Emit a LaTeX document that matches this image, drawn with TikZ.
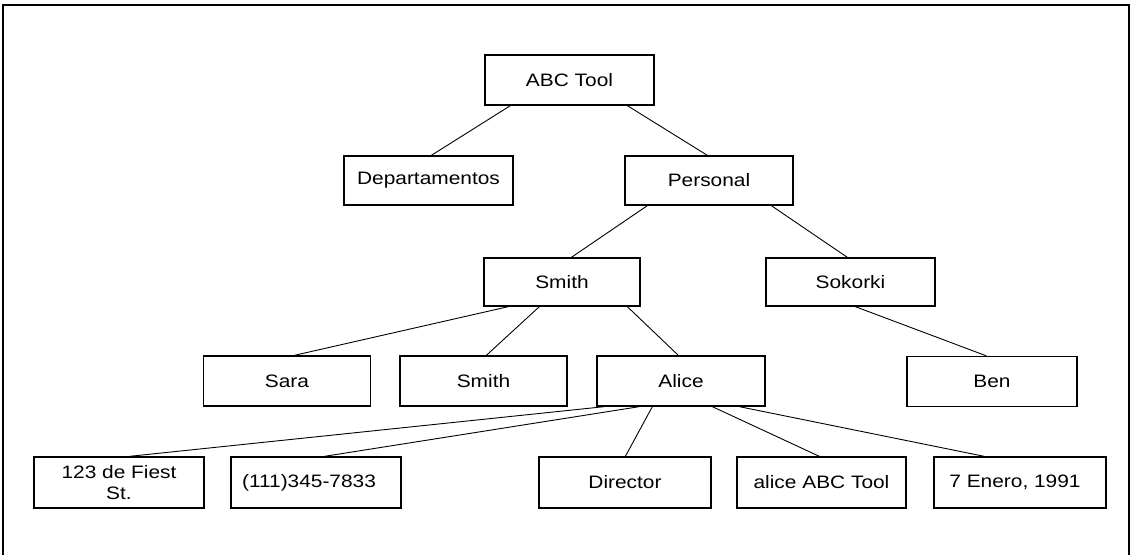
\documentclass[tikz,border=0pt]{standalone}
\usepackage{fontspec}
\setmainfont[FakeStretch=1.16]{Liberation Sans}
\begin{document}
\begin{tikzpicture}[x=1pt,y=-1pt,
  box/.style={draw=black,line width=1.3pt,inner sep=0pt,minimum height=49pt,font=\fontsize{18}{20}\selectfont,align=center},
  link/.style={draw=black,line width=0.9pt}]
\useasboundingbox (0,0) rectangle (1135,555);
\draw[line width=1.2pt] (3,555) -- (3,5) -- (1129,5) -- (1129,555);
% level 1
\node[box,minimum width=169pt,minimum height=50pt] (abc) at (569.5,80) {ABC Tool};
% level 2
\node[box,minimum width=169pt] (dep) at (428.5,180.5) {Departamentos};
\node[box,minimum width=168pt] (per) at (709,180.5) {Personal};
% level 3
\node[box,minimum width=156pt,minimum height=48pt] (smA) at (562,282) {Smith};
\node[box,minimum width=169pt,minimum height=48pt] (sok) at (850.5,282) {Sokorki};
% level 4
\node[box,minimum width=167pt,minimum height=50pt] (sara) at (287,381) {Sara};
\node[box,minimum width=167pt,minimum height=50pt] (smB) at (483.5,381) {Smith};
\node[box,minimum width=168pt,minimum height=50pt] (ali) at (681,381) {Alice};
\node[box,minimum width=170pt,minimum height=50pt] (ben) at (992,381.5) {Ben};
% level 5
\node[box,minimum width=170pt,minimum height=51pt,font=\fontsize{18}{21}\selectfont] (addr) at (119,482.5) {123 de Fiest\\St.};
\node[box,minimum width=170pt,minimum height=51pt] (tel) at (316,482.5) {\hspace*{-14pt}(111)345-7833};
\node[box,minimum width=172pt,minimum height=51pt] (dir) at (625,482.5) {Director};
\node[box,minimum width=169pt,minimum height=51pt] (mail) at (821.5,482.5) {alice ABC Tool};
\node[box,minimum width=172pt,minimum height=51pt] (date) at (1020,482.5) {\hspace*{-10pt}7 Enero, 1991};
% connectors
\draw[link] ([xshift=26pt]abc.south west) -- ([xshift=88pt]dep.north west);
\draw[link] ([xshift=143pt]abc.south west) -- ([xshift=83pt]per.north west);
\draw[link] ([xshift=23pt]per.south west) -- ([xshift=88pt]smA.north west);
\draw[link] ([xshift=147pt]per.south west) -- ([xshift=82pt]sok.north west);
\draw[link] ([xshift=25pt]smA.south west) -- ([xshift=91.5pt]sara.north west);
\draw[link] ([xshift=56pt]smA.south west) -- ([xshift=87pt]smB.north west);
\draw[link] ([xshift=144pt]smA.south west) -- ([xshift=82pt]ali.north west);
\draw[link] ([xshift=90pt]sok.south west) -- ([xshift=80pt]ben.north west);
\draw[link] ([xshift=8pt]ali.south west) -- ([xshift=96pt]addr.north west);
\draw[link] ([xshift=43pt]ali.south west) -- ([xshift=94pt]tel.north west);
\draw[link] ([xshift=56pt]ali.south west) -- ([xshift=87pt]dir.north west);
\draw[link] ([xshift=116pt]ali.south west) -- ([xshift=83pt]mail.north west);
\draw[link] ([xshift=143pt]ali.south west) -- ([xshift=51pt]date.north west);
\end{tikzpicture}
\end{document}
